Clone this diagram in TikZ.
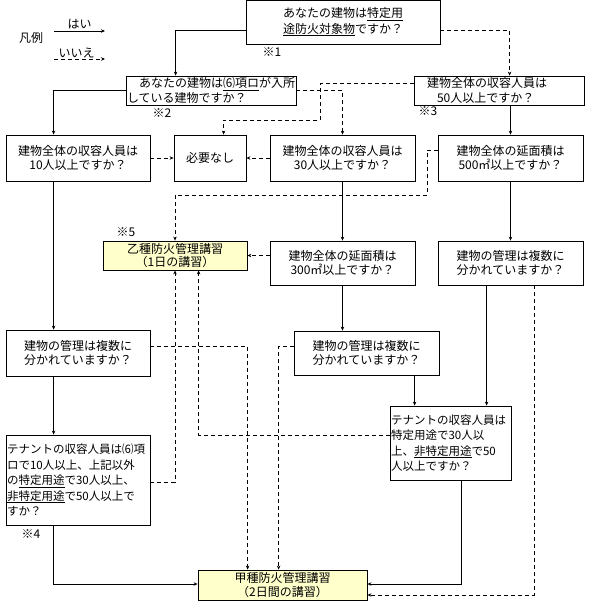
\documentclass[tikz,border=0pt]{standalone}
\usepackage{fontspec}
\setmainfont{Noto Sans CJK JP}
\usetikzlibrary{arrows.meta}
\definecolor{courseyellow}{HTML}{FFFFCC}
\lineskiplimit=-20pt
\tikzset{
 box/.style={draw, line width=0.8pt, inner sep=0pt, align=center, font=\fontsize{12}{13.5}\selectfont},
 tall/.style={font=\fontsize{12}{15.5}\selectfont},
 small/.style={font=\fontsize{11.5}{15.5}\selectfont},
 course/.style={box, fill=courseyellow},
 yes/.style={line width=0.8pt, -{Stealth[length=4pt,width=3.5pt]}},
 no/.style={yes, dash pattern=on 4pt off 3pt},
 note/.style={font=\fontsize{12}{13}\selectfont, inner sep=0pt},
}
\begin{document}
\begin{tikzpicture}[x=1pt,y=-1pt]
\useasboundingbox (0,0) rectangle (590,601);

% legend
\node[note] (lg) at (31,38) {凡例};
\coordinate (ys) at (54,31);
\coordinate (ye) at (105,31);
\coordinate (ns) at (54,59);
\coordinate (ne) at (105,59);
\draw[yes] (ys) -- (ye) node[midway, above=2pt, note] (lyes) {はい};
\draw[no] (ns) -- (ne) node[midway, above=1pt, note, xshift=-3pt] (lno) {いいえ};

% nodes
\node[box, tall, minimum width=194, minimum height=44] (n1) at (343,22)
  {あなたの建物は\underline{特定用}\\\underline{途防火対象物}ですか？};
\node[box, tall, align=left, text width=168, inner xsep=1pt, minimum height=29] (n2) at (211,90.5)
  {　あなたの建物は\underline{⑹項ロ}が入所\\している建物ですか？};
\node[box, tall, align=left, text width=144, inner xsep=13pt, minimum height=29] (n3) at (499,90.5)
  {建物全体の収容人員は\\\hspace*{10pt}50人以上ですか？};

\node[box, minimum width=144, minimum height=46] (n4) at (78,158)
  {建物全体の収容人員は\\10人以上ですか？};
\node[box, minimum width=72, minimum height=46] (nn) at (210,158) {必要なし};
\node[box, minimum width=145, minimum height=46] (n5) at (342.5,158)
  {建物全体の収容人員は\\30人以上ですか？};
\node[box, minimum width=145, minimum height=46] (n6) at (510.5,158)
  {建物全体の延面積は\\500㎡以上ですか？};

\node[course, minimum width=144, minimum height=29] (otsu) at (175,255.5)
  {乙種防火管理講習\\（1日の講習）};
\node[box, minimum width=145, minimum height=44] (n7) at (342.5,263)
  {建物全体の延面積は\\300㎡以上ですか？};
\node[box, minimum width=145, minimum height=44] (n8) at (510.5,263)
  {建物の管理は複数に\\分かれていますか？};

\node[box, minimum width=144, minimum height=46] (n11) at (78,353)
  {建物の管理は複数に\\分かれていますか？};
\node[box, minimum width=145, minimum height=44] (n9) at (366.5,353)
  {建物の管理は複数に\\分かれていますか？};

\node[box, small, align=left, text width=119, inner xsep=1pt, minimum height=74] (n10) at (450.5,443)
  {テナントの収容人員は\\特定用途で30人以\\上、\underline{非特定用途}で50\\人以上ですか？};
\node[box, small, align=left, text width=142, inner xsep=1pt, minimum height=90] (n12) at (78,480)
  {テナントの収容人員は⑹項\\ロで10人以上、上記以外\\の\underline{特定用途}で30人以上、\\\underline{非特定用途}で50人以上で\\すか？};

\node[course, minimum width=169, minimum height=30] (kou) at (282.5,585)
  {甲種防火管理講習\\（2日間の講習）};

% notes
\node[note] (m1) at (272,52) {※1};
\node[note] (m2) at (162,113) {※2};
\node[note] (m3) at (428,111) {※3};
\node[note] (m5) at (126,232) {※5};
\node[note] (m4) at (31,534) {※4};

% connectors
\draw[yes] ([yshift=-8pt]n1.west) -| ([xshift=50pt]n2.north west);
\draw[no] ([yshift=-8pt]n1.east) -| ([xshift=96pt]n3.north west);
\draw[yes] (n2.west) -| ([xshift=48pt]n4.north west);
\draw[no] (n2.east) -| (n5.north);
\draw[no] ([yshift=7pt]n3.west) -| (320,120) -| ([xshift=50pt]nn.north west);
\draw[yes] (n6.north |- n3.south) -- (n6.north);
\draw[no] (n4.east) -- (nn.west);
\draw[no] (n5.west) -- (nn.east);
\draw[yes] (n5.south) -- (n7.north);
\draw[no] ([yshift=8pt]n6.west) -| (427,195) -| (otsu.north);
\draw[yes] (n6.south) -- (n8.north);
\draw[no] (n7.west |- otsu.east) -- (otsu.east);
\draw[yes] (n7.south) -- (n7.south |- n9.north);
\coordinate (a14) at ([xshift=49pt]n8.south west);
\draw[yes] (a14) -- (a14 |- n10.north);
\coordinate (a15) at ([xshift=97pt]n8.south west);
\draw[no] (a15) |- ([yshift=-10pt]kou.east);
\coordinate (a16) at ([xshift=121pt]n9.south west);
\draw[yes] (a16) -- (a16 |- n10.north);
\draw[no] ([yshift=7pt]n9.west) -| ([xshift=81pt]kou.north west);
\draw[no] ([yshift=7pt]n11.east) -| ([xshift=50pt]kou.north west);
\coordinate (a19) at ([xshift=48pt]n11.south west);
\draw[yes] (a19) -- (a19 |- n12.north);
\coordinate (a20) at ([xshift=48pt]n4.south west);
\draw[yes] (a20) -- (a20 |- n11.north);
\draw[no] ([yshift=-2pt]n12.east) -| (otsu.south);
\draw[no] ([yshift=8pt]n10.west) -| ([xshift=96pt]otsu.south west);
\coordinate (a23) at ([xshift=48pt]n12.south west);
\draw[yes] (a23) |- ([yshift=1pt]kou.west);
\coordinate (a24) at ([xshift=72pt]n10.south west);
\draw[yes] (a24) |- ([yshift=1pt]kou.east);
\end{tikzpicture}
\end{document}
